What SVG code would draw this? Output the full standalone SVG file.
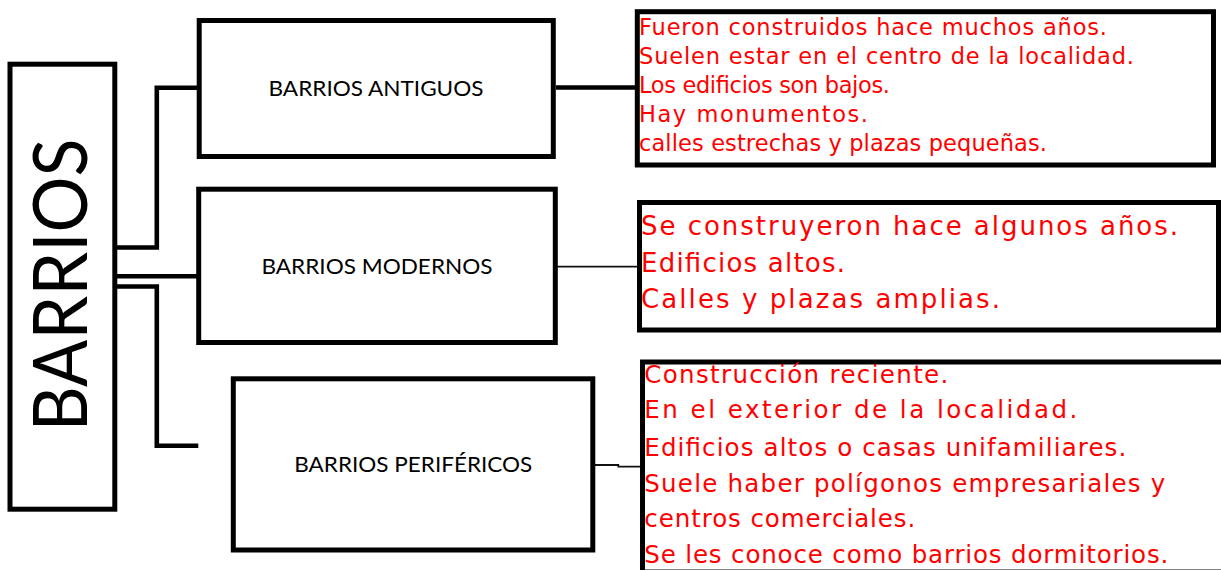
<svg xmlns="http://www.w3.org/2000/svg" width="1221" height="570" viewBox="0 0 1221 570">
<style>
.box{fill:#fff;stroke:#000;stroke-width:5}
.lbl{font-family:Lato,"Open Sans","Liberation Sans",sans-serif;font-size:22px;fill:#000;text-anchor:middle}
.big{font-family:Lato,"Open Sans","Liberation Sans",sans-serif;font-size:76px;fill:#000;text-anchor:middle}
.red{font-family:"DejaVu Sans","Liberation Sans",sans-serif;fill:#ff0000}
.c{fill:none;stroke:#000;stroke-width:4.6}
.thin{fill:none;stroke:#111;stroke-width:1.8}
</style>
<rect width="1221" height="570" fill="#fff"/>
<g id="connectors">
<path class="c" d="M117,247.5 H156.8 V87.8 H199"/>
<path class="c" d="M117,276.2 H199"/>
<path class="c" d="M117,286.5 H156.8 V445.7 H198.3"/>
<path class="c" d="M556,87.5 H637"/>
<path class="thin" d="M557,266.7 H639"/>
<path class="thin" d="M595,465 H618.3 V466.7 H642"/>
</g>
<g id="barrios">
<rect class="box" x="10" y="64.2" width="104.8" height="445"/>
<text class="big" transform="translate(87,285) rotate(-90)" textLength="293" lengthAdjust="spacingAndGlyphs">BARRIOS</text>
</g>
<g id="antiguos">
<rect class="box" x="199.2" y="20.5" width="354.1" height="136"/>
<text class="lbl" x="376" y="95.7" textLength="215" lengthAdjust="spacingAndGlyphs">BARRIOS ANTIGUOS</text>
</g>
<g id="modernos">
<rect class="box" x="198.7" y="189.2" width="356.6" height="153.3"/>
<text class="lbl" x="377" y="274" textLength="231" lengthAdjust="spacingAndGlyphs">BARRIOS MODERNOS</text>
</g>
<g id="perifericos">
<rect class="box" x="233.3" y="378.8" width="359.5" height="171.2"/>
<text class="lbl" x="413.3" y="472.3" textLength="238" lengthAdjust="spacingAndGlyphs">BARRIOS PERIFÉRICOS</text>
</g>
<g id="desc-antiguos">
<rect class="box" x="637.3" y="11.7" width="576.2" height="153.3" stroke-width="4.7"/>
<g class="red" font-size="22.5">
<text x="639" y="34.5" textLength="468">Fueron construidos hace muchos años.</text>
<text x="639" y="63.5" textLength="495">Suelen estar en el centro de la localidad.</text>
<text x="639" y="92.5" textLength="251">Los edificios son bajos.</text>
<text x="639" y="121.5" textLength="229">Hay monumentos.</text>
<text x="639" y="150.5" textLength="408">calles estrechas y plazas pequeñas.</text>
</g>
</g>
<g id="desc-modernos">
<rect class="box" x="639.5" y="202.5" width="579" height="127.5" stroke-width="5.5"/>
<g class="red" font-size="26">
<text x="641" y="235" textLength="537">Se construyeron hace algunos años.</text>
<text x="641" y="271.7" textLength="204">Edificios altos.</text>
<text x="641" y="308.3" textLength="359">Calles y plazas amplias.</text>
</g>
</g>
<g id="desc-perifericos">
<rect class="box" x="642.5" y="362" width="600" height="210" stroke-width="5.5"/>
<g class="red" font-size="24.5">
<text x="644.3" y="383.3" textLength="304">Construcción reciente.</text>
<text x="644.3" y="418.3" textLength="433">En el exterior de la localidad.</text>
<text x="644.3" y="456" textLength="482">Edificios altos o casas unifamiliares.</text>
<text x="644.3" y="491.7" textLength="521">Suele haber polígonos empresariales y</text>
<text x="644.3" y="526.7" textLength="271">centros comerciales.</text>
<text x="644.3" y="563.3" textLength="524">Se les conoce como barrios dormitorios.</text>
</g>
</g>
</svg>
